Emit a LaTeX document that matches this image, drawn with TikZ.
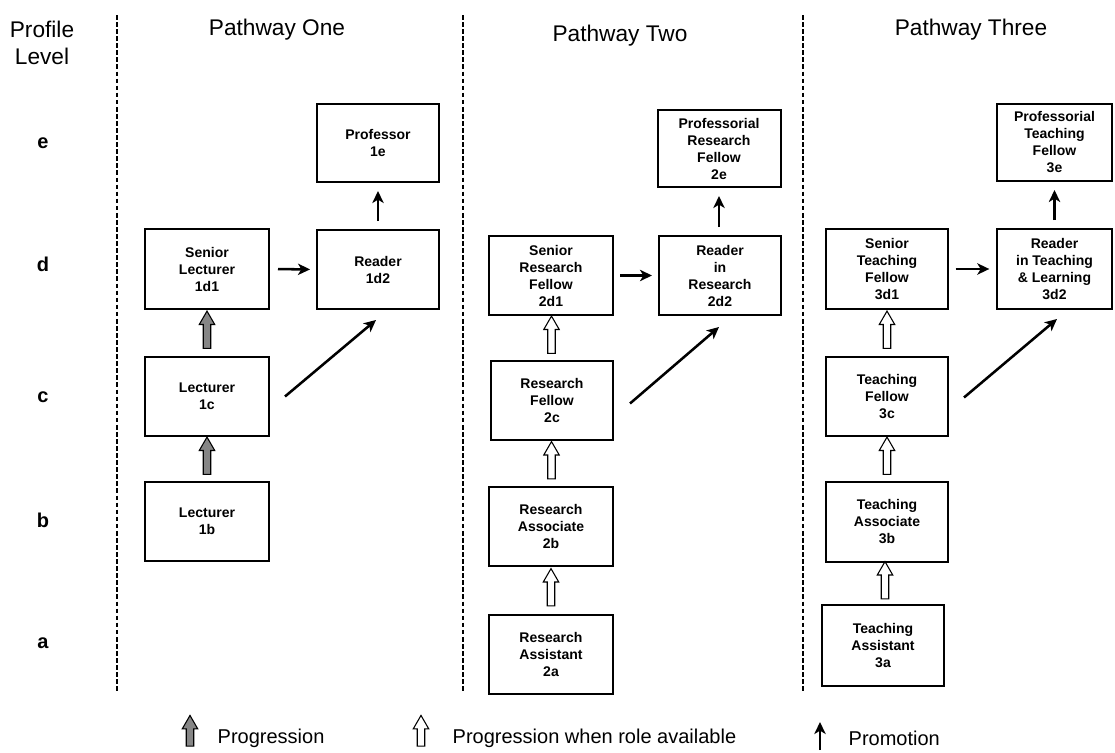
\documentclass[tikz,border=0pt]{standalone}
\usepackage{fontspec}
\setmainfont{Liberation Sans}
\usetikzlibrary{shapes.arrows,arrows.meta,calc}
\begin{document}
\begin{tikzpicture}[x=0.75pt,y=-0.75pt,
  role/.style={draw,line width=1.5pt,align=center,font=\fontsize{10.5}{12.75}\selectfont\bfseries,inner sep=0pt},
  head/.style={font=\fontsize{17}{20.5}\selectfont,align=center},
  lvl/.style={font=\fontsize{15}{18}\selectfont\bfseries},
  legtext/.style={font=\fontsize{15}{18}\selectfont,anchor=west},
  divider/.style={line width=2.1pt,dash pattern=on 3.5pt off 1.8pt},
  promo/.style={line width=1.9pt,-{Stealth[length=9pt,width=8.5pt,inset=2.5pt]}},
  blk/.style={single arrow,draw,line width=0.8pt,shape border rotate=90,minimum height=28pt,minimum width=10.5pt,inner sep=2.4pt,single arrow head extend=3pt,single arrow tip angle=60},
  grayarr/.style={blk,fill=gray!95},
  whitearr/.style={blk,fill=white}]
\useasboundingbox (0,0) rectangle (1115,753);

% headings
\node[head] (hp) at (42,43) {Profile\\Level};
\node[head] (h1) at (277,30) {Pathway One};
\node[head] (h2) at (620,36) {Pathway Two};
\node[head] (h3) at (971,30) {Pathway Three};

% level labels
\node[lvl] (le) at (43,143) {e};
\node[lvl] (ld) at (43,264) {d};
\node[lvl] (lc) at (43,397) {c};
\node[lvl] (lb) at (43,520) {b};
\node[lvl] (la) at (43,643) {a};

% dividers
\coordinate (d1t) at (117,15); \coordinate (d1b) at (117,693);
\coordinate (d2t) at (463,15); \coordinate (d2b) at (463,693);
\coordinate (d3t) at (803,15); \coordinate (d3b) at (803,693);
\draw[divider] (d1t) -- (d1b);
\draw[divider] (d2t) -- (d2b);
\draw[divider] (d3t) -- (d3b);

% pathway one
\node[role,minimum width=91.5pt,minimum height=58.5pt] (p1e) at (378,143) {Professor\\1e};
\node[role,minimum width=93pt,minimum height=60pt] (p1d1) at (207,269) {Senior\\Lecturer\\1d1};
\node[role,minimum width=91.5pt,minimum height=59.25pt] (p1d2) at (378,269.5) {Reader\\1d2};
\node[role,minimum width=93pt,minimum height=59.25pt] (p1c) at (207,396.5) {Lecturer\\1c};
\node[role,minimum width=93pt,minimum height=59.25pt] (p1b) at (207,521.5) {Lecturer\\1b};

% pathway two
\node[role,minimum width=92.25pt,minimum height=57.75pt] (p2e) at (719,148.5) {Professorial\\Research\\Fellow\\2e};
\node[role,minimum width=91.5pt,minimum height=59.25pt] (p2d2) at (720,275.5) {Reader\\in\\Research\\2d2};
\node[role,minimum width=93pt,minimum height=59.25pt] (p2d1) at (551,275.5) {Senior\\Research\\Fellow\\2d1};
\node[role,minimum width=91.5pt,minimum height=59.25pt] (p2c) at (552,400.5) {Research\\Fellow\\2c};
\node[role,minimum width=93pt,minimum height=59.25pt] (p2b) at (551,526.5) {Research\\Associate\\2b};
\node[role,minimum width=93pt,minimum height=59.25pt] (p2a) at (551,654.5) {Research\\Assistant\\2a};

% pathway three
\node[role,minimum width=86.25pt,minimum height=57.75pt] (p3e) at (1054.5,142.5) {Professorial\\Teaching\\Fellow\\3e};
\node[role,minimum width=91.5pt,minimum height=60pt] (p3d1) at (887,269) {Senior\\Teaching\\Fellow\\3d1};
\node[role,minimum width=86.25pt,minimum height=60pt] (p3d2) at (1054.5,269) {Reader\\in Teaching\\\& Learning\\3d2};
\node[role,minimum width=91.5pt,minimum height=59.25pt] (p3c) at (887,396.5) {Teaching\\Fellow\\3c};
\node[role,minimum width=91.5pt,minimum height=60pt] (p3b) at (887,522) {Teaching\\Associate\\3b};
\node[role,minimum width=91.5pt,minimum height=60.75pt] (p3a) at (883,645.5) {Teaching\\Assistant\\3a};

% promotions
\draw[promo,shorten <=6pt,shorten >=4.5pt] (p1d1.east) -- (p1d2.west);
\draw[promo,shorten <=6pt,shorten >=6pt] (p1d2.north) -- (p1e.south);
\draw[promo] ($(p1c.east)+(15,0)$) -- ($(p1d2.south)+(-2,10)$);

\draw[promo,shorten <=4.5pt,shorten >=4.5pt] (p2d1.east) -- (p2d2.west);
\draw[promo,shorten <=6pt,shorten >=6pt] (p2e.south |- p2d2.north) -- (p2e.south);
\draw[promo] ($(p2c.east)+(16,3)$) -- ($(p2d2.south)+(-1,11)$);

\draw[promo,shorten <=5pt,shorten >=5pt] (p3d1.east) -- (p3d2.west);
\draw[promo,shorten <=6pt,shorten >=6pt] (p3d2.north) -- (p3e.south);
\draw[promo] ($(p3c.east)+(15,1)$) -- ($(p3d2.south)+(2.5,9)$);

% progressions
\path (p1b.north) -- (p1c.south) node[grayarr,midway] (g1) {};
\path (p1c.north) -- (p1d1.south) node[grayarr,midway] (g2) {};

\path (p2a.north) -- (p2b.south) node[whitearr,midway] (w1) {};
\path (p2b.north) -- (p2c.south) node[whitearr,midway] (w2) {};
\path (p2c.north) -- (p2d1.south) node[whitearr,midway] (w3) {};

\path (p3a.north) -- (p3b.south) node[whitearr,midway] (w4) {};
\path (p3b.north) -- (p3c.south) node[whitearr,midway] (w5) {};
\path (p3c.north) -- (p3d1.south) node[whitearr,midway] (w6) {};

% legend
\node[grayarr,minimum height=23pt] (lg1) at (190,734) {};
\node[legtext] (lt1) at (213,738) {Progression};
\node[whitearr,minimum height=23pt] (lg2) at (421,734) {};
\node[legtext] (lt2) at (448,738) {Progression when role available};
\coordinate (lp1) at (820,750);
\coordinate (lp2) at (820,722);
\draw[promo] (lp1) -- (lp2);
\node[legtext] (lt3) at (844,738) {Promotion};
\end{tikzpicture}
\end{document}
